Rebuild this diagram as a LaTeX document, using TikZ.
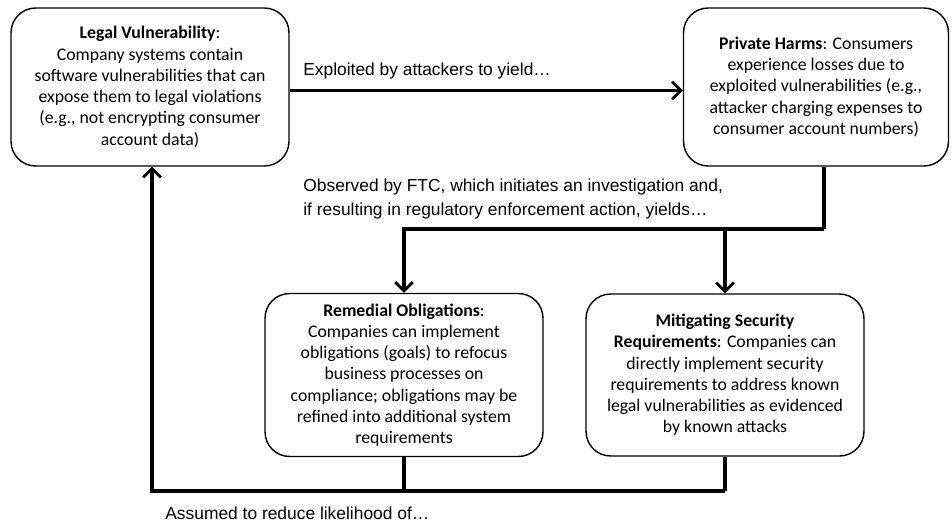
\documentclass[tikz,border=0pt]{standalone}
\usepackage{fontspec}
\setmainfont{Carlito}
\newfontfamily\labelfont{Liberation Sans}
\usetikzlibrary{arrows.meta, positioning, calc}

\tikzset{
    stage/.style={draw, thick, rounded corners=14pt, align=center,
        minimum width=5.56cm, minimum height=3.16cm, inner sep=2pt,
        font=\fontsize{10.1}{12.1}\selectfont},
    flow/.style={line width=2.2pt, -{Straight Barb[length=5pt,width=10pt,line width=1.6pt]}},
    link/.style={line width=2.2pt},
    note/.style={anchor=west, align=left, inner sep=0pt,
        font=\labelfont\fontsize{9.9}{14.2}\selectfont}
}

\begin{document}
\begin{tikzpicture}[x=0.02cm, y=-0.02cm]
    \useasboundingbox (0,0) rectangle (952,524);

    % the four stages
    \node[stage] (legal) at (150,87)
        {\textbf{Legal Vulnerability}:\\ Company systems contain\\ software vulnerabilities that can\\ expose them to legal violations\\ (e.g., not encrypting consumer\\ account data)};
    \node[stage, minimum width=5.3cm] (harms) at (816,87)
        {\textbf{Private Harms}: Consumers\\ experience losses due to\\ exploited vulnerabilities (e.g.,\\ attacker charging expenses to\\ consumer account numbers)};
    \node[stage, minimum height=3.26cm] (remedial) at (404,375)
        {\textbf{Remedial Obligations}:\\ Companies can implement\\ obligations (goals) to refocus\\ business processes on\\ compliance; obligations may be\\ refined into additional system\\ requirements};
    \node[stage, minimum height=3.24cm] (mitigate) at (725,375)
        {\textbf{Mitigating Security}\\ \textbf{Requirements}: Companies can\\ directly implement security\\ requirements to address known\\ legal vulnerabilities as evidenced\\ by known attacks};

    % junction points
    \coordinate (split) at (824,229);
    \coordinate (join) at (725,491);
    \coordinate (corner) at (152,491);

    % connectors
    \draw[flow] ([yshift=-2] legal.east) -- ([yshift=-2] harms.west);
    \draw[link] (harms.south -| split) -- (split);
    \draw[flow] (split) -| (remedial.north);
    \draw[flow] (split -| mitigate.north) -- (mitigate.north);
    \draw[link] (mitigate.south) -- (join);
    \draw[link] (remedial.south) -- (remedial.south |- join);
    \draw[flow] (join) -- (corner) -- (corner |- legal.south);

    % labels
    \node[note] (exploit) at (303,71) {Exploited by attackers to yield\dots};
    \node[note] (observe) at (303,199) {Observed by FTC, which initiates an investigation and,\\ if resulting in regulatory enforcement action, yields\dots};
    \node[note] (assume) at (165,513) {Assumed to reduce likelihood of\dots};
\end{tikzpicture}
\end{document}
